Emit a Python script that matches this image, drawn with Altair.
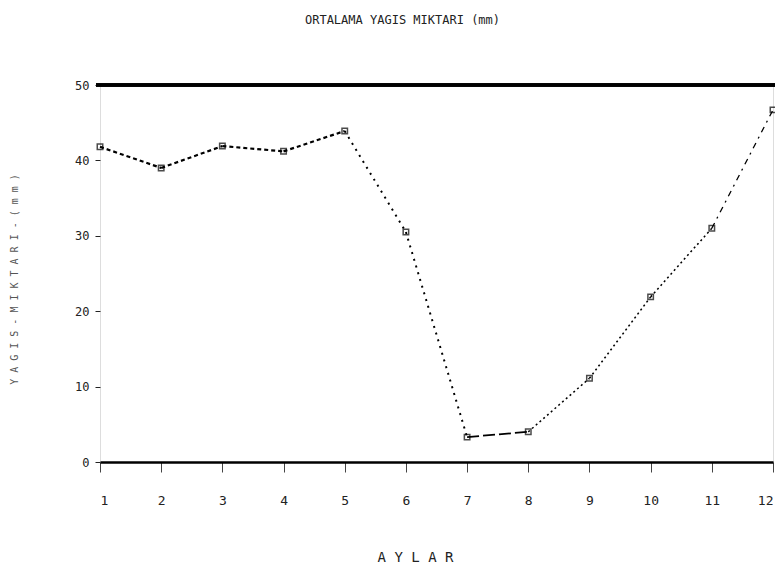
import altair as alt
import pandas as pd

months = [1, 2, 3, 4, 5, 6, 7, 8, 9, 10, 11, 12]
rain = [41.8, 39.0, 41.9, 41.2, 43.9, 30.5, 3.3, 4.0, 11.1, 21.9, 31.0, 46.7]
seg_style = ["dash", "dash", "dash", "dash", "dot", "dot", "long", "dot2", "dot2", "dot2", "dashdot"]
y_ticks = [0, 10, 20, 30, 40, 50]

pts = pd.DataFrame({"ay": months, "mm": rain})
segs = pd.DataFrame({
    "ay": months[:-1], "mm": rain[:-1],
    "ay2": months[1:], "mm2": rain[1:],
    "style": seg_style,
})

FONT = "DejaVu Sans Mono"
xs = alt.Scale(domain=[1, 12], nice=False, zero=False)
ys = alt.Scale(domain=[0, 50], nice=False)

lines = alt.Chart(segs).mark_rule(color="black").encode(
    x=alt.X("ay:Q", scale=xs, axis=alt.Axis(
        values=months, format="d", title="A Y L A R", grid=False,
        domain=True, domainColor="black", domainWidth=2.5,
        ticks=True, tickSize=10, tickColor="#444", tickOffset=0,
        labelPadding=22, labelFont=FONT, labelFontSize=13, labelColor="#222",
        titleFont=FONT, titleFontSize=14, titleFontWeight="normal", titleColor="#222",
        titleX=315, titleY=95, titleBaseline="middle")),
    y=alt.Y("mm:Q", scale=ys, axis=alt.Axis(
        values=y_ticks, title="Y A G I S - M I K T A R I - ( m m )", grid=False,
        domain=False, ticks=True, tickSize=5, tickColor="#222",
        labelPadding=6, labelFont=FONT, labelFontSize=12, labelColor="#222",
        titleFont=FONT, titleFontSize=10, titleFontWeight="normal", titleColor="#555",
        titleX=-86, titleY=194, titleAngle=-90, titleAlign="center", titleBaseline="middle")),
    x2="ay2:Q",
    y2="mm2:Q",
    strokeDash=alt.StrokeDash("style:N", legend=None, scale=alt.Scale(
        domain=["dash", "dot", "long", "dot2", "dashdot"],
        range=[[4, 3], [2, 5], [12, 4], [2, 3], [6, 5, 2, 5]])),
    strokeWidth=alt.StrokeWidth("style:N", legend=None, scale=alt.Scale(
        domain=["dash", "dot", "long", "dot2", "dashdot"],
        range=[2.2, 1.3, 2.2, 2, 1.2])),
)

points = alt.Chart(pts).mark_point(
    shape="square", filled=False, color="black", size=30, strokeWidth=1.5
).encode(x=alt.X("ay:Q", scale=xs), y=alt.Y("mm:Q", scale=ys))

top_rule = alt.Chart(pts).mark_rule(color="black", strokeWidth=2.5).encode(
    y=alt.datum(50), x=alt.value(-4), x2=alt.value(675)
)

chart = alt.layer(top_rule, lines, points).properties(
    width=673, height=377,
    autosize=alt.AutoSizeParams(type="none"),
    padding={"left": 92, "top": 77, "right": 2, "bottom": 110},
    title=alt.Title("ORTALAMA YAGIS MIKTARI (mm)", font=FONT, fontSize=12,
                    fontWeight="normal", color="#222", anchor="middle",
                    dx=-34, offset=52),
).configure_view(stroke=None).configure(background="white")

chart.save("out.html", embed_options={"renderer": "svg", "actions": False})
